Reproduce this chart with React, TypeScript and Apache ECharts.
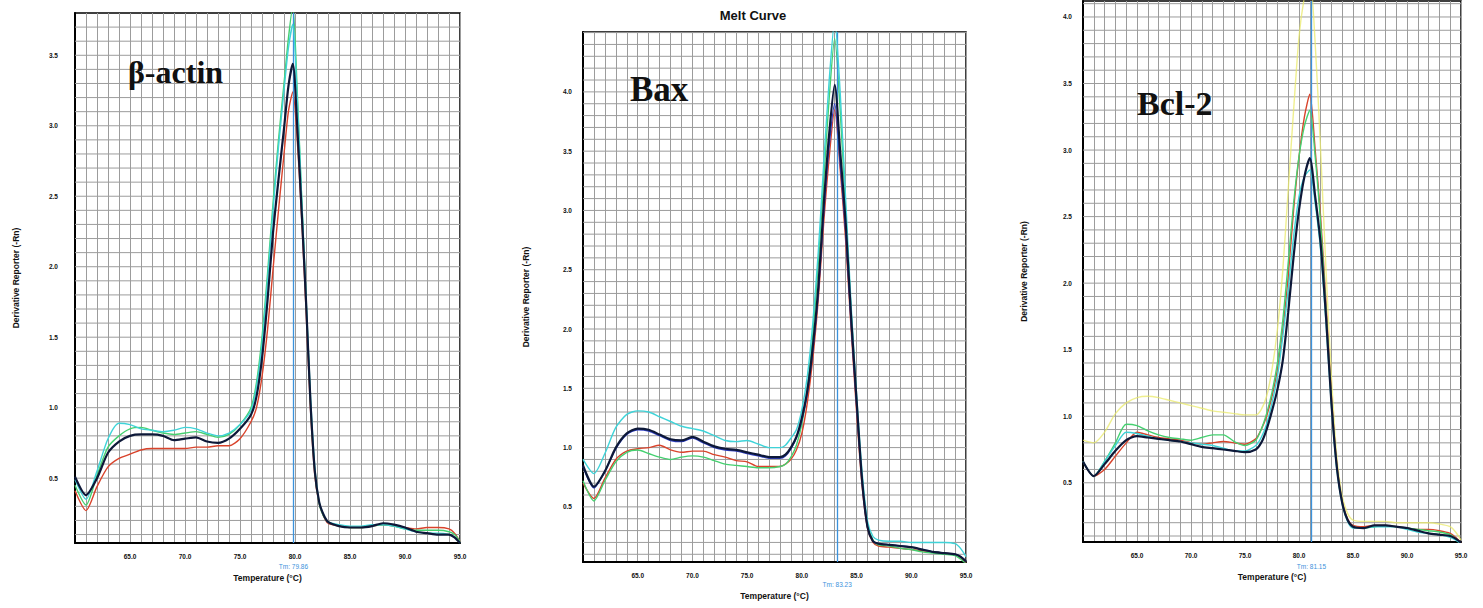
import React, { useEffect, useRef } from "react";
import * as echarts from "echarts";

// ---- β-actin melt curves ----
const tempsActin = [60, 61, 62, 63, 64, 65, 66, 67, 68, 69, 70, 71, 72, 73, 74, 75, 76, 76.5, 77, 77.5, 78, 78.5, 79, 79.4, 79.8, 80.2, 80.6, 81, 81.4, 81.8, 82.2, 82.6, 83, 84, 85, 86, 87, 88, 89, 90, 91, 92, 93, 94, 94.5, 95];
const actinRed = [0.41, 0.27, 0.44, 0.58, 0.64, 0.67, 0.70, 0.71, 0.71, 0.71, 0.71, 0.72, 0.72, 0.73, 0.73, 0.78, 0.90, 1.0, 1.22, 1.55, 1.98, 2.4, 2.8, 3.1, 3.24, 2.9, 2.35, 1.7, 1.0, 0.52, 0.32, 0.23, 0.18, 0.16, 0.15, 0.15, 0.16, 0.17, 0.16, 0.15, 0.14, 0.15, 0.15, 0.14, 0.11, 0.05];
const actinGreen = [0.45, 0.31, 0.52, 0.72, 0.80, 0.85, 0.86, 0.84, 0.82, 0.81, 0.82, 0.83, 0.81, 0.79, 0.81, 0.88, 1.0, 1.18, 1.5, 1.95, 2.45, 2.9, 3.3, 3.62, 3.85, 3.25, 2.5, 1.78, 1.05, 0.55, 0.32, 0.23, 0.19, 0.16, 0.15, 0.15, 0.16, 0.17, 0.16, 0.14, 0.13, 0.13, 0.13, 0.12, 0.10, 0.05];
const actinCyan = [0.49, 0.35, 0.55, 0.78, 0.89, 0.88, 0.85, 0.84, 0.83, 0.84, 0.86, 0.85, 0.82, 0.80, 0.82, 0.88, 0.98, 1.15, 1.45, 1.9, 2.4, 2.85, 3.25, 3.55, 3.72, 3.2, 2.5, 1.8, 1.1, 0.58, 0.33, 0.24, 0.19, 0.17, 0.16, 0.16, 0.17, 0.17, 0.16, 0.14, 0.12, 0.11, 0.11, 0.10, 0.08, 0.04];
const actinNavy = [0.51, 0.38, 0.50, 0.68, 0.76, 0.80, 0.81, 0.81, 0.80, 0.77, 0.78, 0.79, 0.76, 0.75, 0.78, 0.85, 0.95, 1.08, 1.35, 1.76, 2.24, 2.62, 2.98, 3.28, 3.44, 3.0, 2.4, 1.76, 1.05, 0.55, 0.33, 0.24, 0.19, 0.16, 0.15, 0.15, 0.16, 0.18, 0.17, 0.15, 0.12, 0.11, 0.10, 0.10, 0.08, 0.04];

// ---- Bax melt curves ----
const tempsBax = [60, 61, 62, 63, 64, 65, 66, 67, 68, 69, 70, 71, 72, 73, 74, 75, 76, 77, 78, 78.5, 79, 79.5, 80, 80.5, 81, 81.5, 82, 82.5, 83, 83.5, 84, 84.5, 85, 85.5, 86, 86.5, 87, 88, 89, 90, 91, 92, 93, 94, 94.5, 95];
const baxRed = [0.70, 0.57, 0.74, 0.90, 0.97, 0.99, 1.0, 1.02, 0.98, 0.96, 0.97, 0.97, 0.94, 0.92, 0.89, 0.88, 0.84, 0.84, 0.84, 0.86, 0.9, 0.98, 1.12, 1.38, 1.75, 2.25, 2.9, 3.45, 3.85, 3.35, 2.75, 2.0, 1.3, 0.68, 0.32, 0.2, 0.17, 0.16, 0.15, 0.14, 0.13, 0.12, 0.11, 0.10, 0.07, 0.03];
const baxGreen = [0.72, 0.55, 0.72, 0.88, 0.96, 0.98, 0.95, 0.92, 0.90, 0.92, 0.93, 0.92, 0.89, 0.86, 0.85, 0.84, 0.83, 0.83, 0.84, 0.86, 0.92, 1.02, 1.2, 1.5, 1.95, 2.55, 3.25, 3.95, 4.45, 3.85, 3.0, 2.15, 1.4, 0.75, 0.35, 0.22, 0.18, 0.17, 0.15, 0.14, 0.12, 0.11, 0.10, 0.09, 0.06, 0.02];
const baxCyan = [0.9, 0.78, 0.95, 1.17, 1.28, 1.31, 1.30, 1.26, 1.22, 1.18, 1.16, 1.14, 1.10, 1.06, 1.05, 1.06, 1.03, 1.0, 1.0, 1.02, 1.08, 1.15, 1.32, 1.6, 2.05, 2.65, 3.4, 4.1, 4.6, 4.0, 3.1, 2.2, 1.45, 0.8, 0.38, 0.25, 0.22, 0.21, 0.21, 0.2, 0.2, 0.2, 0.2, 0.19, 0.15, 0.08];
const baxBlue = [0.84, 0.66, 0.80, 0.99, 1.11, 1.15, 1.14, 1.10, 1.06, 1.05, 1.08, 1.04, 1.00, 0.98, 0.97, 0.95, 0.93, 0.91, 0.91, 0.93, 0.99, 1.08, 1.23, 1.46, 1.82, 2.3, 2.98, 3.55, 3.9, 3.4, 2.82, 2.05, 1.36, 0.72, 0.33, 0.21, 0.19, 0.18, 0.17, 0.16, 0.14, 0.12, 0.11, 0.10, 0.08, 0.04];
const baxNavy = [0.85, 0.67, 0.80, 1.0, 1.12, 1.16, 1.15, 1.11, 1.07, 1.06, 1.09, 1.05, 1.01, 0.99, 0.98, 0.96, 0.94, 0.92, 0.92, 0.94, 1.0, 1.09, 1.25, 1.48, 1.85, 2.35, 3.05, 3.65, 4.06, 3.5, 2.9, 2.1, 1.4, 0.73, 0.33, 0.21, 0.19, 0.18, 0.17, 0.16, 0.14, 0.12, 0.11, 0.10, 0.08, 0.04];

// ---- Bcl-2 melt curves ----
const tempsBcl2 = [60, 61, 62, 63, 64, 65, 66, 67, 68, 69, 70, 71, 72, 73, 74, 75, 76, 76.5, 77, 77.5, 78, 78.5, 79, 79.5, 80, 80.5, 81, 81.5, 82, 82.5, 83, 83.5, 84, 84.5, 85, 86, 87, 88, 89, 90, 91, 92, 93, 94, 94.5, 95];
const bclYellow = [0.82, 0.8, 0.88, 1.02, 1.1, 1.14, 1.15, 1.14, 1.12, 1.1, 1.08, 1.06, 1.04, 1.03, 1.02, 1.01, 1.01, 1.05, 1.15, 1.35, 1.65, 2.1, 2.7, 3.3, 3.85, 4.15, 4.3, 3.8, 3.0, 2.1, 1.3, 0.7, 0.4, 0.27, 0.22, 0.21, 0.21, 0.21, 0.2, 0.2, 0.2, 0.2, 0.19, 0.17, 0.13, 0.07];
const bclRed = [0.66, 0.55, 0.60, 0.70, 0.80, 0.88, 0.86, 0.84, 0.83, 0.82, 0.80, 0.79, 0.80, 0.81, 0.80, 0.79, 0.83, 0.9, 1.0, 1.15, 1.35, 1.65, 2.05, 2.55, 2.95, 3.25, 3.42, 3.0, 2.5, 1.85, 1.15, 0.64, 0.36, 0.23, 0.18, 0.17, 0.18, 0.18, 0.17, 0.16, 0.15, 0.15, 0.14, 0.12, 0.09, 0.05];
const bclGreen = [0.66, 0.55, 0.66, 0.80, 0.94, 0.93, 0.89, 0.86, 0.84, 0.83, 0.82, 0.84, 0.86, 0.86, 0.81, 0.78, 0.82, 0.9, 1.02, 1.18, 1.4, 1.72, 2.15, 2.6, 2.95, 3.18, 3.3, 2.95, 2.45, 1.8, 1.12, 0.62, 0.35, 0.22, 0.17, 0.16, 0.17, 0.18, 0.17, 0.16, 0.15, 0.14, 0.13, 0.11, 0.08, 0.04];
const bclCyan = [0.66, 0.55, 0.66, 0.78, 0.88, 0.87, 0.85, 0.83, 0.82, 0.81, 0.80, 0.79, 0.78, 0.76, 0.74, 0.74, 0.78, 0.84, 0.94, 1.1, 1.3, 1.6, 1.95, 2.35, 2.65, 2.8, 2.85, 2.6, 2.25, 1.7, 1.08, 0.6, 0.34, 0.21, 0.16, 0.16, 0.17, 0.17, 0.17, 0.15, 0.13, 0.12, 0.11, 0.09, 0.07, 0.04];
const bclNavy = [0.66, 0.55, 0.64, 0.74, 0.82, 0.85, 0.84, 0.83, 0.82, 0.81, 0.79, 0.77, 0.76, 0.75, 0.74, 0.73, 0.75, 0.8, 0.9, 1.04, 1.2, 1.42, 1.78, 2.2, 2.55, 2.8, 2.94, 2.65, 2.3, 1.75, 1.1, 0.62, 0.35, 0.22, 0.17, 0.16, 0.18, 0.18, 0.17, 0.16, 0.14, 0.12, 0.11, 0.10, 0.08, 0.05];

// ---- axis ticks and melting temperatures ----
const tempTicks = [60, 95];
const yTickLabels = [0.5, 1.0, 1.5, 2.0, 2.5, 3.0, 3.5, 4.0];
const tmValues = [79.86, 83.23, 81.15];
const geneNames = ["β-actin", "Bax", "Bcl-2"];

const NAVY = "#0d1838";
const RED = "#d9432b";
const GREEN = "#45d070";
const CYAN = "#3fd3d8";
const BLUE = "#2f3fc4";
const YELLOW = "#e9ea6a";
const GRID = "#9c9c9c";
const TM_BLUE = "#3b92dc";
const SANS = '"Liberation Sans", Arial, sans-serif';
const SERIF = '"Liberation Serif", "Times New Roman", serif';

type Curve = { color: string; values: number[]; width?: number; opacity?: number };

type Panel = {
  temps: number[];
  curves: Curve[];
  yMin: number;
  yMax: number;
  grid: { left: number; top: number; width: number; height: number };
  yLabelMargin: number;
  yNameGap: number;
  xNameGap: number;
  tmDistance: number;
};

const panels: Panel[] = [
  {
    temps: tempsActin,
    curves: [
      { color: RED, values: actinRed },
      { color: GREEN, values: actinGreen },
      { color: CYAN, values: actinCyan },
      { color: NAVY, values: actinNavy, width: 2.2 },
    ],
    yMin: 0.04,
    yMax: 3.8,
    grid: { left: 75, top: 13, width: 385, height: 530 },
    yLabelMargin: 17,
    yNameGap: 55,
    xNameGap: 30,
    tmDistance: 20,
  },
  {
    temps: tempsBax,
    curves: [
      { color: RED, values: baxRed },
      { color: GREEN, values: baxGreen },
      { color: CYAN, values: baxCyan },
      { color: BLUE, values: baxBlue, width: 1.4 },
      { color: NAVY, values: baxNavy, width: 2.2 },
    ],
    yMin: 0.035,
    yMax: 4.505,
    grid: { left: 583, top: 32, width: 383, height: 530 },
    yLabelMargin: 11,
    yNameGap: 53,
    xNameGap: 29,
    tmDistance: 19,
  },
  {
    temps: tempsBcl2,
    curves: [
      { color: YELLOW, values: bclYellow, opacity: 0.75 },
      { color: RED, values: bclRed },
      { color: GREEN, values: bclGreen },
      { color: CYAN, values: bclCyan },
      { color: NAVY, values: bclNavy, width: 2.2 },
    ],
    yMin: 0.055,
    yMax: 4.12,
    grid: { left: 1083, top: 1, width: 378, height: 541 },
    yLabelMargin: 11,
    yNameGap: 55,
    xNameGap: 30,
    tmDistance: 21,
  },
];

const labelPos = [
  { x: 128, y: 72, size: 32 },
  { x: 630, y: 89, size: 35 },
  { x: 1137, y: 103, size: 34 },
];

function buildOption() {
  const grids: any[] = [];
  const xAxes: any[] = [];
  const yAxes: any[] = [];
  const series: any[] = [];

  panels.forEach((p, i) => {
    grids.push({
      ...p.grid,
      show: true,
      borderColor: "#000",
      borderWidth: 1.5,
      backgroundColor: "#fff",
    });

    xAxes.push({
      type: "value",
      gridIndex: i,
      min: tempTicks[0],
      max: tempTicks[1],
      interval: 5,
      name: "Temperature (°C)",
      nameLocation: "middle",
      nameGap: p.xNameGap,
      nameTextStyle: { fontFamily: SANS, fontSize: 8.5, fontWeight: "bold", color: "#111" },
      axisLine: { show: true, onZero: false, lineStyle: { color: "#000", width: 2 } },
      axisTick: { show: false },
      axisLabel: {
        showMinLabel: false,
        margin: 10,
        fontFamily: SANS,
        fontSize: 6.5,
        fontWeight: "bold",
        color: "#111",
        formatter: (v: number) => v.toFixed(1),
      },
      splitLine: { show: true, lineStyle: { color: GRID, width: 1 } },
      minorTick: { show: false, splitNumber: 5 },
      minorSplitLine: { show: true, lineStyle: { color: GRID, width: 1 } },
    });

    const shownTicks = yTickLabels.filter((v) => v > p.yMin && v < p.yMax);
    yAxes.push({
      type: "value",
      gridIndex: i,
      min: p.yMin,
      max: p.yMax,
      name: "Derivative Reporter (-Rn)",
      nameLocation: "middle",
      nameRotate: 90,
      nameGap: p.yNameGap,
      nameTextStyle: { fontFamily: SANS, fontSize: 8.5, fontWeight: "bold", color: "#111" },
      axisLine: { show: true, onZero: false, lineStyle: { color: "#000", width: 2 } },
      axisTick: { show: false },
      axisLabel: {
        customValues: shownTicks,
        margin: p.yLabelMargin,
        fontFamily: SANS,
        fontSize: 6.5,
        fontWeight: "bold",
        color: "#111",
        formatter: (v: number) => v.toFixed(1),
      },
      splitLine: { show: false },
    });

    // horizontal grid rules every 0.1 units of derivative reporter
    const rows: number[][] = [];
    for (let k = 1; k * 0.1 < p.yMax; k++) rows.push([tempTicks[0], +(k * 0.1).toFixed(1)]);
    series.push({
      type: "custom",
      xAxisIndex: i,
      yAxisIndex: i,
      silent: true,
      z: 1,
      data: rows,
      renderItem: (_params: any, api: any) => {
        const y = api.value(1);
        const a = api.coord([tempTicks[0], y]);
        const b = api.coord([tempTicks[1], y]);
        return {
          type: "line",
          shape: { x1: a[0], y1: a[1], x2: b[0], y2: b[1] },
          style: { stroke: GRID, lineWidth: 1 },
        };
      },
    });

    p.curves.forEach((c, ci) => {
      const isLast = ci === p.curves.length - 1;
      series.push({
        type: "line",
        xAxisIndex: i,
        yAxisIndex: i,
        data: p.temps.map((t, k) => [t, c.values[k]]),
        smooth: 0.25,
        showSymbol: false,
        symbol: "none",
        clip: true,
        z: 3 + ci,
        lineStyle: { color: c.color, width: c.width ?? 1.4, opacity: c.opacity ?? 1 },
        markLine: isLast
          ? {
              silent: true,
              symbol: ["none", "none"],
              lineStyle: { color: TM_BLUE, width: 1.3, type: "solid" },
              label: {
                show: true,
                position: "start",
                distance: p.tmDistance,
                formatter: "Tm: " + tmValues[i].toFixed(2),
                color: TM_BLUE,
                fontFamily: SANS,
                fontSize: 6.5,
              },
              data: [{ xAxis: tmValues[i] }],
            }
          : undefined,
      });
    });
  });

  const graphics: any[] = geneNames.map((name, i) => ({
    type: "text",
    x: labelPos[i].x,
    y: labelPos[i].y,
    z: 100,
    style: {
      text: name,
      font: `bold ${labelPos[i].size}px ${SERIF}`,
      fill: "#111",
      textVerticalAlign: "middle",
      textAlign: "left",
    },
  }));
  graphics.push({
    type: "text",
    x: 753,
    y: 15,
    z: 100,
    style: {
      text: "Melt Curve",
      font: `bold 13px ${SANS}`,
      fill: "#111",
      textAlign: "center",
      textVerticalAlign: "middle",
    },
  });

  return {
    animation: false,
    backgroundColor: "#fff",
    grid: grids,
    xAxis: xAxes,
    yAxis: yAxes,
    series,
    graphic: graphics,
  };
}

export default function App() {
  const ref = useRef<HTMLDivElement>(null);
  useEffect(() => {
    if (!ref.current) return;
    const chart = echarts.init(ref.current, undefined, { renderer: "svg" });
    chart.setOption(buildOption());
    return () => chart.dispose();
  }, []);
  return (
    <div
      ref={ref}
      style={{ position: "absolute", left: 0, top: 0, width: 1483, height: 608, background: "#fff" }}
    />
  );
}
